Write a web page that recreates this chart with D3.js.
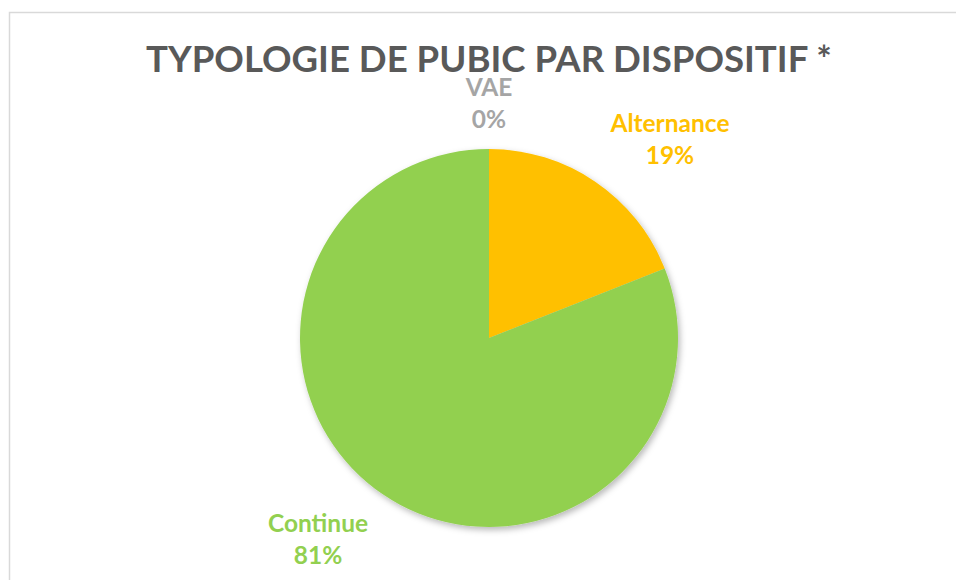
<!DOCTYPE html>
<html lang="fr">
<head>
    <meta charset="UTF-8">
    <title>Typologie de public par dispositif</title>
    <script src="https://cdnjs.cloudflare.com/ajax/libs/d3/7.8.5/d3.min.js"></script>
    <style>
        body { margin: 0; background: #fff; }
        svg { display: block; }
    </style>
</head>
<body>
    <div id="chart"></div>

    <script>
        // data
        var categories = ["VAE", "Alternance", "Continue"];
        var values = [0, 19, 81];
        var colors = ["#A5A5A5", "#FFC000", "#92D050"];
        var title = "TYPOLOGIE DE PUBIC PAR DISPOSITIF *";

        var width = 956,
            height = 580;

        var svg = d3.select("#chart")
            .append("svg")
            .attr("width", width)
            .attr("height", height);

        // chart frame (only top and left edges are inside the window)
        svg.append("rect")
            .attr("x", 9.5)
            .attr("y", 12.5)
            .attr("width", width + 20)
            .attr("height", height + 20)
            .attr("fill", "#fff")
            .attr("stroke", "#d9d9d9")
            .attr("stroke-width", 1.5);

        var defs = svg.append("defs");
        defs.append("filter")
            .attr("id", "shadow")
            .attr("x", "-10%").attr("y", "-10%")
            .attr("width", "130%").attr("height", "130%")
            .append("feDropShadow")
            .attr("dx", 2)
            .attr("dy", 3)
            .attr("stdDeviation", 3)
            .attr("flood-color", "#000")
            .attr("flood-opacity", 0.28);

        // title, stretched to the width it has in the picture
        var t = svg.append("text")
            .attr("x", 489)
            .attr("y", 72)
            .attr("text-anchor", "middle")
            .attr("fill", "#595959")
            .style("font-family", "Lato, 'Open Sans', sans-serif")
            .style("font-weight", "bold")
            .style("font-size", "36px")
            .text(title);
        var tw = t.node().getComputedTextLength();
        t.style("font-size", (36 * 686 / tw) + "px");

        var cx = 489, cy = 338, radius = 189;

        var data = categories.map(function(c, i) {
            return { name: c, value: values[i], color: colors[i] };
        });

        var pie = d3.pie()
            .sort(null)
            .value(function(d) { return d.value; });

        var arc = d3.arc()
            .innerRadius(0)
            .outerRadius(radius);

        var g = svg.append("g")
            .attr("transform", "translate(" + cx + "," + cy + ")");

        var arcs = pie(data);

        g.append("g")
            .attr("filter", "url(#shadow)")
            .selectAll("path")
            .data(arcs)
            .enter().append("path")
            .attr("d", arc)
            .attr("fill", function(d) { return d.data.color; });

        // labels: box placed outside the pie along the middle angle
        var labelR = 208;
        var clamp = function(v) { return Math.max(-1, Math.min(1, v)); };

        arcs.forEach(function(d) {
            var a = (d.startAngle + d.endAngle) / 2;
            var px = Math.sin(a) * labelR,
                py = -Math.cos(a) * labelR;

            var lbl = g.append("text")
                .attr("text-anchor", "middle")
                .attr("fill", d.data.color)
                .style("font-family", "Lato, 'Open Sans', sans-serif")
                .style("font-weight", "bold")
                .style("font-size", "24.5px");
            lbl.append("tspan").attr("x", 0).attr("dy", 0).text(d.data.name);
            lbl.append("tspan").attr("x", 0).attr("dy", 32).text(d.data.value + "%");

            var bw = lbl.node().getBBox().width + 8,
                bh = 56;
            var sx = clamp(Math.sin(a) * 2),
                sy = clamp(-Math.cos(a) * 2);
            var bx = px + sx * bw / 2,
                by = py + sy * bh / 2;
            // first baseline sits ~6px above box centre
            lbl.attr("transform", "translate(" + bx + "," + (by - 6) + ")");
        });
    </script>
</body>
</html>
